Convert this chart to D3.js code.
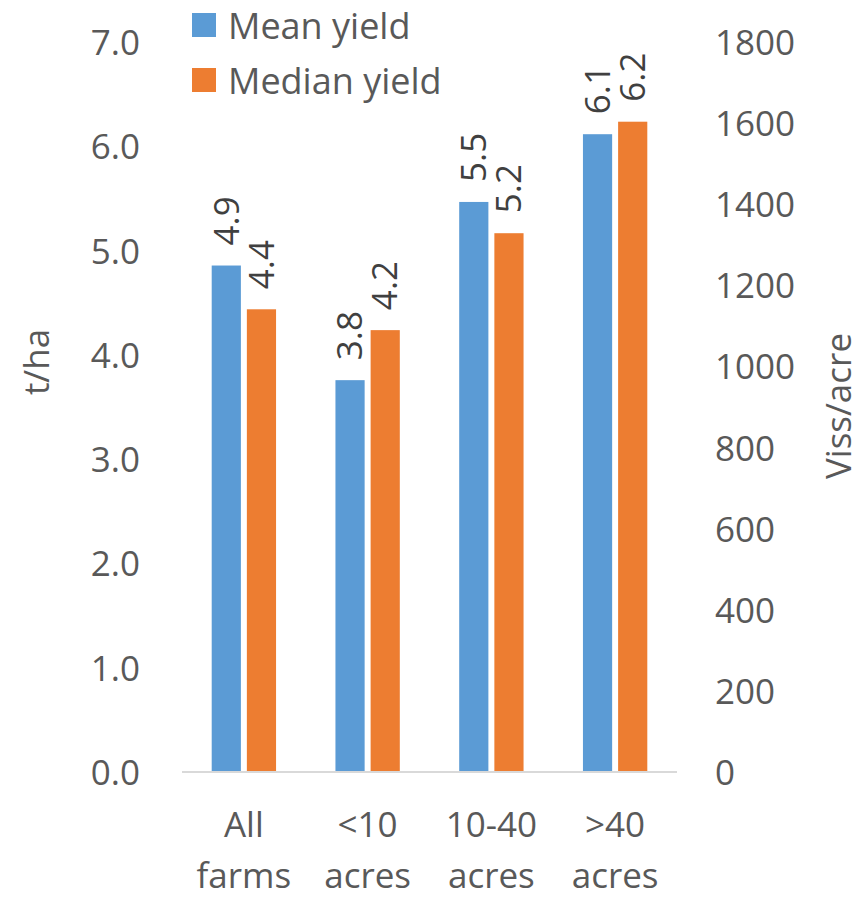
<!DOCTYPE html>
<html>
<head>
<meta charset="utf-8">
<script src="https://cdn.jsdelivr.net/npm/d3@7"></script>
<style>
  html, body { margin: 0; padding: 0; background: #fff; }
  svg { display: block; }
  text { font-family: "Open Sans", "Noto Sans", sans-serif; }
</style>
</head>
<body>
<svg id="chart" width="868" height="897"></svg>
<script>
// Yield by farm size
const categories = [["All", "farms"], ["<10", "acres"], ["10-40", "acres"], [">40", "acres"]];
const seriesNames = ["Mean yield", "Median yield"];
const meanYield = [4.86, 3.76, 5.47, 6.12];
const medianYield = [4.44, 4.24, 5.17, 6.24];
const leftTicks = [0, 1, 2, 3, 4, 5, 6, 7];
const rightTicks = [0, 200, 400, 600, 800, 1000, 1200, 1400, 1600, 1800];
const colors = ["#5B9BD5", "#ED7D31"];

const svg = d3.select("#chart");
const plot = { left: 182, right: 677, top: 42.5, bottom: 772 };
const fontSize = 35;

const catKeys = categories.map(c => c.join(" "));
const x0 = d3.scaleBand().domain(catKeys).range([plot.left, plot.right])
  .paddingInner(0.48).paddingOuter(0.24);
const x1 = d3.scaleBand().domain(seriesNames).range([0, x0.bandwidth()]).paddingInner(0.17);
const y = d3.scaleLinear().domain([0, 7]).range([plot.bottom, plot.top]);
const yRight = d3.scaleLinear().domain([0, 1800]).range([plot.bottom, plot.top]);

const rows = catKeys.map((k, i) => ({ key: k, values: [meanYield[i], medianYield[i]] }));

// Bars
const groups = svg.append("g").selectAll("g").data(rows).join("g")
  .attr("transform", d => `translate(${x0(d.key)},0)`);
groups.selectAll("rect")
  .data(d => d.values.map((v, j) => ({ name: seriesNames[j], v, j })))
  .join("rect")
  .attr("x", d => x1(d.name))
  .attr("width", x1.bandwidth())
  .attr("y", d => y(d.v))
  .attr("height", d => y(0) - y(d.v))
  .attr("fill", d => colors[d.j]);

// Value labels, rotated, above each bar
const fmt = d3.format(".1f");
groups.selectAll("text.value")
  .data(d => d.values.map((v, j) => ({ name: seriesNames[j], v, j })))
  .join("text")
  .attr("class", "value")
  .attr("transform", d => `translate(${x1(d.name) + x1.bandwidth() / 2},${y(d.v) - 20}) rotate(-90)`)
  .attr("dy", "0.35em")
  .attr("text-anchor", "start")
  .attr("fill", "#404040")
  .attr("font-size", fontSize)
  .text(d => fmt(d.v));

// Category axis line
const xAxis = svg.append("g").attr("transform", `translate(0,${plot.bottom})`)
  .call(d3.axisBottom(x0).tickSize(0).tickFormat(""));
xAxis.select(".domain").attr("stroke", "#D9D9D9").attr("stroke-width", 2)
  .attr("d", `M${plot.left},0H${plot.right}`);

// Two-line category labels
const catLabels = svg.append("g").selectAll("text").data(categories).join("text")
  .attr("x", (d, i) => x0(catKeys[i]) + x0.bandwidth() / 2)
  .attr("y", 837)
  .attr("text-anchor", "middle")
  .attr("fill", "#595959")
  .attr("font-size", fontSize);
catLabels.selectAll("tspan").data(d => d).join("tspan")
  .attr("x", function () { return this.parentNode.getAttribute("x"); })
  .attr("dy", (d, i) => i === 0 ? 0 : 51)
  .text(d => d);

// Left value axis
const leftAxis = svg.append("g").attr("transform", "translate(140,0)")
  .call(d3.axisLeft(y).tickValues(leftTicks).tickSize(0).tickPadding(0).tickFormat(d3.format(".1f")));
leftAxis.select(".domain").remove();
leftAxis.selectAll("text").attr("font-size", fontSize).attr("fill", "#595959")
  .attr("font-family", "'Open Sans', sans-serif").attr("dy", "0.35em");

// Right value axis
const rightAxis = svg.append("g").attr("transform", "translate(715,0)")
  .call(d3.axisRight(yRight).tickValues(rightTicks).tickSize(0).tickPadding(0).tickFormat(d3.format("d")));
rightAxis.select(".domain").remove();
rightAxis.selectAll("text").attr("font-size", fontSize).attr("fill", "#595959")
  .attr("font-family", "'Open Sans', sans-serif").attr("dy", "0.35em");

// Axis titles
svg.append("text")
  .attr("transform", "translate(49,362) rotate(-90)")
  .attr("text-anchor", "middle")
  .attr("fill", "#595959")
  .attr("font-size", fontSize)
  .text("t/ha");
svg.append("text")
  .attr("transform", "translate(851,406) rotate(-90)")
  .attr("text-anchor", "middle")
  .attr("fill", "#595959")
  .attr("font-size", fontSize)
  .text("Viss/acre");

// Legend
const legend = svg.append("g").selectAll("g").data(seriesNames).join("g")
  .attr("transform", (d, i) => `translate(192,${13 + i * 55})`);
legend.append("rect").attr("width", 24).attr("height", 24).attr("fill", (d, i) => colors[i]);
legend.append("text")
  .attr("x", 36).attr("y", 26)
  .attr("fill", "#595959")
  .attr("font-size", 36)
  .text(d => d);
</script>
</body>
</html>
